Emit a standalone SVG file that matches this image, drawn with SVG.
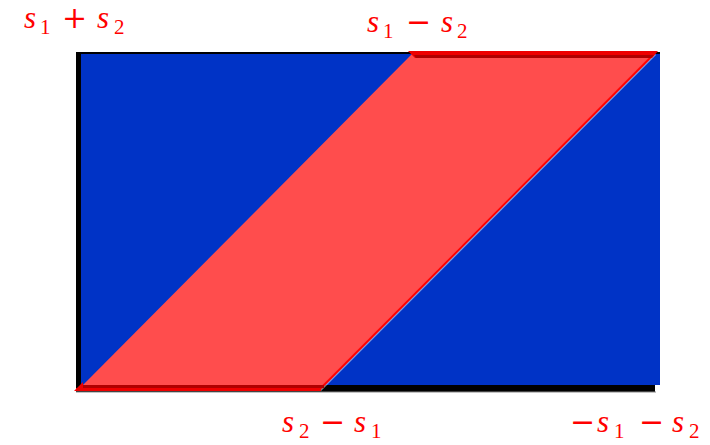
<svg xmlns="http://www.w3.org/2000/svg" width="710" height="445" viewBox="0 0 710 445">
<style>
.lbl{font-family:"Liberation Serif","DejaVu Serif",serif;fill:#ff0000;font-size:31px}
.v{font-style:italic;font-size:31px}
.sub{font-size:21px}
.op{font-family:"DejaVu Serif",serif;font-size:30px}
.bright{fill:#ee0000}
.dark{fill:#b00000}
</style>
<g id="frame">
<rect x="76" y="52" width="584" height="3" fill="#000"/>
<rect x="76" y="52" width="5" height="340" fill="#000"/>
<rect x="76" y="385" width="579" height="7" fill="#000"/>
<rect x="76" y="391.5" width="580" height="1" fill="#888"/>
<rect x="81" y="54" width="579" height="331" fill="#0033c6"/>
</g>
<g id="band">
<polygon points="78,390 320,390 655,54 412,54" fill="#ff4d4d"/>
<line x1="320" y1="390" x2="655" y2="54" stroke="#ffffff" stroke-width="3" stroke-opacity="0.5"/>
<line x1="319" y1="390" x2="654" y2="54" stroke="#ff0000" stroke-width="2"/>
<polygon class="bright" points="408,51 658,51 652,58 415,58"/>
<polygon class="dark" points="414,55 654,55 651,58 416,58"/>
<rect class="dark" x="80" y="385" width="244" height="3"/>
<rect class="bright" x="76" y="388" width="245" height="3"/>
<polygon class="bright" points="74,391 83,382 83,391"/>
</g>
<g id="labels">
<text class="lbl" y="28"><tspan class="v" x="24">s</tspan><tspan class="sub" x="40" y="34">1</tspan><tspan class="op" x="62" y="28">+</tspan><tspan class="v" x="97">s</tspan><tspan class="sub" x="114" y="34">2</tspan></text>
<text class="lbl" y="32"><tspan class="v" x="367">s</tspan><tspan class="sub" x="383" y="38">1</tspan><tspan class="op" x="406" y="32">−</tspan><tspan class="v" x="441">s</tspan><tspan class="sub" x="457" y="38">2</tspan></text>
<text class="lbl" y="432"><tspan class="v" x="282">s</tspan><tspan class="sub" x="299" y="438">2</tspan><tspan class="op" x="320" y="432">−</tspan><tspan class="v" x="354">s</tspan><tspan class="sub" x="371" y="438">1</tspan></text>
<text class="lbl" y="432"><tspan class="op" x="570">−</tspan><tspan class="v" x="597">s</tspan><tspan class="sub" x="614" y="438">1</tspan><tspan class="op" x="639" y="432">−</tspan><tspan class="v" x="672">s</tspan><tspan class="sub" x="689" y="438">2</tspan></text>
</g>
</svg>
